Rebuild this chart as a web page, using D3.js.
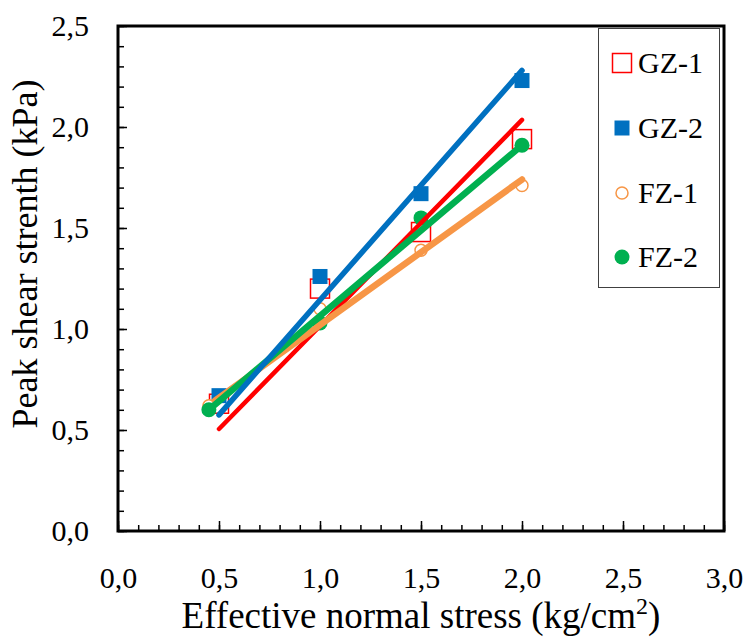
<!DOCTYPE html>
<html>
<head>
<meta charset="utf-8">
<script src="https://cdn.jsdelivr.net/npm/d3@7"></script>
</head>
<body style="margin:0">
<svg id="chart" width="747" height="644" style="display:block;background:#fff"></svg>
<script>
// Series names and colours
const seriesNames = ["GZ-1", "GZ-2", "FZ-1", "FZ-2"];
const seriesColors = ["#FF0000", "#0070C0", "#F79646", "#00B050"];

// Measured points (effective normal stress, kg/cm2 -> peak shear strength, kPa)
const gz1X = [0.5, 1.0, 1.5, 2.0];
const gz1Y = [0.63, 1.20, 1.48, 1.94];
const gz2X = [0.5, 1.0, 1.5, 2.0];
const gz2Y = [0.67, 1.26, 1.67, 2.23];
const fz1X = [0.45, 1.0, 1.5, 2.0];
const fz1Y = [0.62, 1.10, 1.39, 1.71];
const fz2X = [0.45, 1.0, 1.5, 2.0];
const fz2Y = [0.60, 1.03, 1.55, 1.91];

// Linear trend lines: [start x, end x] and [start y, end y]
const gz1TrendX = [0.5, 2.0];
const gz1TrendY = [0.505, 2.035];
const gz2TrendX = [0.5, 2.0];
const gz2TrendY = [0.575, 2.28];
const fz1TrendX = [0.48, 2.0];
const fz1TrendY = [0.645, 1.74];
const fz2TrendX = [0.45, 2.0];
const fz2TrendY = [0.60, 1.91];

// Axis ticks
const xMajorTicks = [0, 0.5, 1.0, 1.5, 2.0, 2.5, 3.0];
const yMajorTicks = [0, 0.5, 1.0, 1.5, 2.0, 2.5];
const xMinorTicks = d3.range(0, 31).map(i => i / 10);
const yMinorTicks = d3.range(0, 26).map(i => i / 10);

const serifFace = '"Liberation Serif"';

const svg = d3.select("#chart");
const plotL = 118, plotR = 724, plotT = 26, plotB = 531;

const x = d3.scaleLinear().domain([0, 3]).range([plotL, plotR]);
const y = d3.scaleLinear().domain([0, 2.5]).range([plotB, plotT]);
const fmt = d => d3.format(".1f")(d).replace(".", ",");

// Minor ticks (inside)
svg.append("g")
  .attr("transform", `translate(0,${plotB})`)
  .call(d3.axisBottom(x).tickValues(xMinorTicks).tickSize(-6).tickFormat(""))
  .call(g => g.select(".domain").remove())
  .call(g => g.selectAll("line").attr("stroke", "#000").attr("stroke-width", 1.5));
svg.append("g")
  .attr("transform", `translate(${plotL},0)`)
  .call(d3.axisLeft(y).tickValues(yMinorTicks).tickSize(-6).tickFormat(""))
  .call(g => g.select(".domain").remove())
  .call(g => g.selectAll("line").attr("stroke", "#000").attr("stroke-width", 1.5));

// Major ticks with labels
svg.append("g")
  .attr("transform", `translate(0,${plotB})`)
  .call(d3.axisBottom(x).tickValues(xMajorTicks).tickSize(-10).tickPadding(36).tickFormat(fmt))
  .call(g => g.attr("font-family", null).attr("font-size", null))
  .call(g => g.select(".domain").remove())
  .call(g => g.selectAll("line").attr("stroke", "#000").attr("stroke-width", 1.5))
  .call(g => g.selectAll("text").attr("fill", "#000")
    .style("font-family", serifFace).style("font-size", "30px"));
svg.append("g")
  .attr("transform", `translate(${plotL},0)`)
  .call(d3.axisLeft(y).tickValues(yMajorTicks).tickSize(-9).tickPadding(29).tickFormat(fmt))
  .call(g => g.attr("font-family", null).attr("font-size", null))
  .call(g => g.select(".domain").remove())
  .call(g => g.selectAll("line").attr("stroke", "#000").attr("stroke-width", 1.5))
  .call(g => g.selectAll("text").attr("fill", "#000")
    .style("font-family", serifFace).style("font-size", "30px"));

// Plot frame
svg.append("rect")
  .attr("x", plotL).attr("y", plotT)
  .attr("width", plotR - plotL).attr("height", plotB - plotT)
  .attr("fill", "none").attr("stroke", "#000").attr("stroke-width", 3);

// Markers
const markers = svg.append("g");
const pts = (xs, ys) => xs.map((v, i) => [v, ys[i]]);

markers.selectAll(".gz1").data(pts(gz1X, gz1Y)).join("rect")
  .attr("x", d => x(d[0]) - 9.5).attr("y", d => y(d[1]) - 9.5)
  .attr("width", 19).attr("height", 19)
  .attr("fill", "#fff").attr("stroke", seriesColors[0]).attr("stroke-width", 1.5);
markers.selectAll(".gz2").data(pts(gz2X, gz2Y)).join("rect")
  .attr("x", d => x(d[0]) - 7.5).attr("y", d => y(d[1]) - 7.5)
  .attr("width", 15).attr("height", 15)
  .attr("fill", seriesColors[1]);
markers.selectAll(".fz1").data(pts(fz1X, fz1Y)).join("circle")
  .attr("cx", d => x(d[0])).attr("cy", d => y(d[1])).attr("r", 6)
  .attr("fill", "#fff").attr("stroke", seriesColors[2]).attr("stroke-width", 1.5);
markers.selectAll(".fz2").data(pts(fz2X, fz2Y)).join("circle")
  .attr("cx", d => x(d[0])).attr("cy", d => y(d[1])).attr("r", 7.5)
  .attr("fill", seriesColors[3]);

// Trend lines
const line = d3.line().x(d => x(d[0])).y(d => y(d[1]));
const trends = [
  { pts: pts(gz1TrendX, gz1TrendY), color: seriesColors[0], w: 4.5 },
  { pts: pts(fz1TrendX, fz1TrendY), color: seriesColors[2], w: 6.5 },
  { pts: pts(fz2TrendX, fz2TrendY), color: seriesColors[3], w: 6.5 },
  { pts: pts(gz2TrendX, gz2TrendY), color: seriesColors[1], w: 5.5 }
];
svg.append("g").selectAll("path").data(trends).join("path")
  .attr("d", d => line(d.pts))
  .attr("fill", "none")
  .attr("stroke", d => d.color)
  .attr("stroke-width", d => d.w)
  .attr("stroke-linecap", "round");

// Legend
const legend = svg.append("g");
legend.append("rect")
  .attr("x", 598.5).attr("y", 28.5).attr("width", 121).attr("height", 259)
  .attr("fill", "#fff").attr("stroke", "#404040").attr("stroke-width", 1);
const legY = [63, 128, 193, 257];
const lx = 622;
legend.append("rect").attr("x", lx - 9.5).attr("y", legY[0] - 9.5).attr("width", 19).attr("height", 19)
  .attr("fill", "#fff").attr("stroke", seriesColors[0]).attr("stroke-width", 1.5);
legend.append("rect").attr("x", lx - 7.5).attr("y", legY[1] - 7.5).attr("width", 15).attr("height", 15)
  .attr("fill", seriesColors[1]);
legend.append("circle").attr("cx", lx).attr("cy", legY[2]).attr("r", 6)
  .attr("fill", "#fff").attr("stroke", seriesColors[2]).attr("stroke-width", 1.5);
legend.append("circle").attr("cx", lx).attr("cy", legY[3]).attr("r", 7.5)
  .attr("fill", seriesColors[3]);
legend.selectAll("text.lab").data(seriesNames).join("text")
  .attr("class", "lab")
  .attr("x", 638).attr("y", (d, i) => legY[i] + 10)
  .style("font-family", serifFace).style("font-size", "30px")
  .text(d => d);

// Axis titles
const xt = svg.append("text")
  .attr("x", (plotL + plotR) / 2).attr("y", 628)
  .attr("text-anchor", "middle")
  .style("font-family", serifFace).style("font-size", "37px");
xt.append("tspan").text("Effective normal stress (kg/cm");
xt.append("tspan").style("font-size", "24px").attr("dy", -14).text("2");
xt.append("tspan").attr("dy", 14).text(")");

svg.append("text")
  .attr("transform", "translate(37,254) rotate(-90)")
  .attr("text-anchor", "middle")
  .style("font-family", serifFace).style("font-size", "36px")
  .text("Peak shear strenth (kPa)");
</script>
</body>
</html>
